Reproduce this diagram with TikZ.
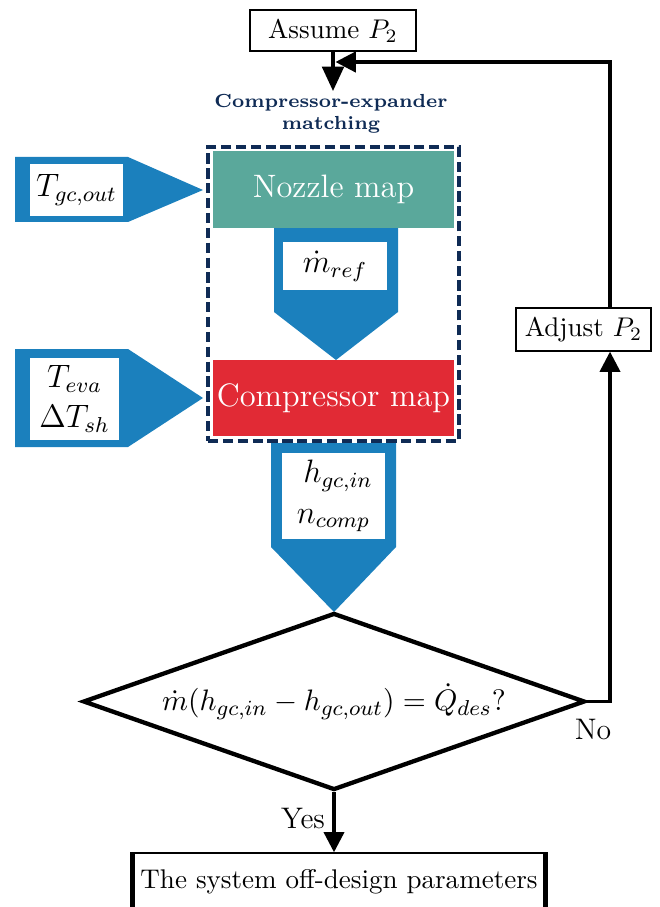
\documentclass[tikz,border=0pt]{standalone}
\usetikzlibrary{arrows.meta,shapes.geometric}
\definecolor{tealc}{HTML}{5AA89B}
\definecolor{redc}{HTML}{E12A35}
\definecolor{bluec}{HTML}{1B80BD}
\definecolor{navyc}{HTML}{0F2B55}
\begin{document}
\begin{tikzpicture}[x=0.37pt,y=-0.37pt,
  plainbox/.style={draw=black,line width=0.7pt,inner sep=0pt,align=center},
  mapbox/.style={inner sep=0pt,text=white,font=\large,align=center},
  whitebox/.style={fill=white,inner sep=0pt,align=center,font=\large},
  bluearrow/.style={fill=bluec,draw=none},
  arr/.style={line width=1.2pt,-{Triangle[length=7.5pt,width=7.5pt]}},
  lbl/.style={inner sep=1pt,font=\fontsize{11}{13}\selectfont}
]
\useasboundingbox (0,0) rectangle (660,907);

% top box
\node[plainbox,minimum width=61.4pt,minimum height=15.2pt] (assume) at (333,30.5) {Assume $P_2$};

% title
\node[text=navyc,font=\bfseries\scriptsize,align=center,inner sep=1pt,anchor=north] (title) at (331,91)
  {Compressor-expander\\matching};

% dashed frame
\node[draw=navyc,line width=1.7pt,dash pattern=on 3.8pt off 1.7pt,minimum width=92.9pt,minimum height=108.8pt,inner sep=0pt] (match) at (333.5,294) {};

% blue arrows
\draw[bluearrow] (274,228) -- (398,228) -- (398,312) -- (336,360) -- (274,312) -- cycle;
\draw[bluearrow] (15,157) -- (128,157) -- (203,190) -- (128,222) -- (15,222) -- cycle;
\draw[bluearrow] (15,349) -- (128,349) -- (203,398) -- (128,447) -- (15,447) -- cycle;
\draw[bluearrow] (271,443) -- (396,443) -- (396,547) -- (334,612) -- (271,547) -- cycle;

% maps
\node[mapbox,fill=tealc,minimum width=89.2pt,minimum height=28.5pt] (nozzle) at (333.5,189.5) {Nozzle map};
\node[mapbox,fill=redc,minimum width=89.2pt,minimum height=28.1pt] (comp) at (333.5,398) {Compressor map};

% white label boxes
\node[whitebox,minimum width=38.5pt,minimum height=17.8pt] (mref) at (335,266) {$\dot m_{ref}$};
\node[whitebox,minimum width=34.4pt,minimum height=19.2pt] (tgc) at (76.5,190) {$T_{gc,out}$};
\node[whitebox,minimum width=33pt,minimum height=30.3pt] (teva) at (74.5,399) {$T_{eva}$\\[1pt]$\Delta T_{sh}$};
\node[whitebox,minimum width=38.1pt,minimum height=31.8pt] (hgc) at (333.5,496) {$\;h_{gc,in}$\\[1pt]$n_{comp}$};

% decision
\node[diamond,draw=black,line width=1.6pt,aspect=2.836,minimum width=185.7pt,minimum height=65.5pt,inner sep=0pt,font=\fontsize{11}{13}\selectfont] (dia) at (334,701.5)
  {$\dot m(h_{gc,in}-h_{gc,out})=\dot Q_{des}?$};

% adjust box
\node[plainbox,line width=0.5pt,minimum width=50pt,minimum height=15.9pt] (adjust) at (583.5,329.5) {Adjust $P_2$};

% bottom box
\node[draw=black,line width=0.5pt,minimum width=152.4pt,minimum height=21.5pt,inner sep=0pt] (bot) at (339,882) {The system off-design parameters};
\draw[line width=1.9pt] (bot.north west) -- (bot.south west);
\draw[line width=1.9pt] (bot.north east) -- (bot.south east);

% connectors
\coordinate (fb) at (335.5,62);
\coordinate (rx) at (610,0);
\draw[line width=1.2pt,-{Triangle[length=9pt,width=8pt]}] (assume.south) -- (assume.south |- title.north);
\draw[arr] (rx |- adjust.north) |- (fb);
\draw[arr] (dia.east) -| (rx |- adjust.south);
\draw[arr] (dia.south) -- (dia.south |- bot.north);

% labels
\node[lbl] (no) at (593,729) {No};
\node[lbl] (yes) at (303,818) {Yes};
\end{tikzpicture}
\end{document}
